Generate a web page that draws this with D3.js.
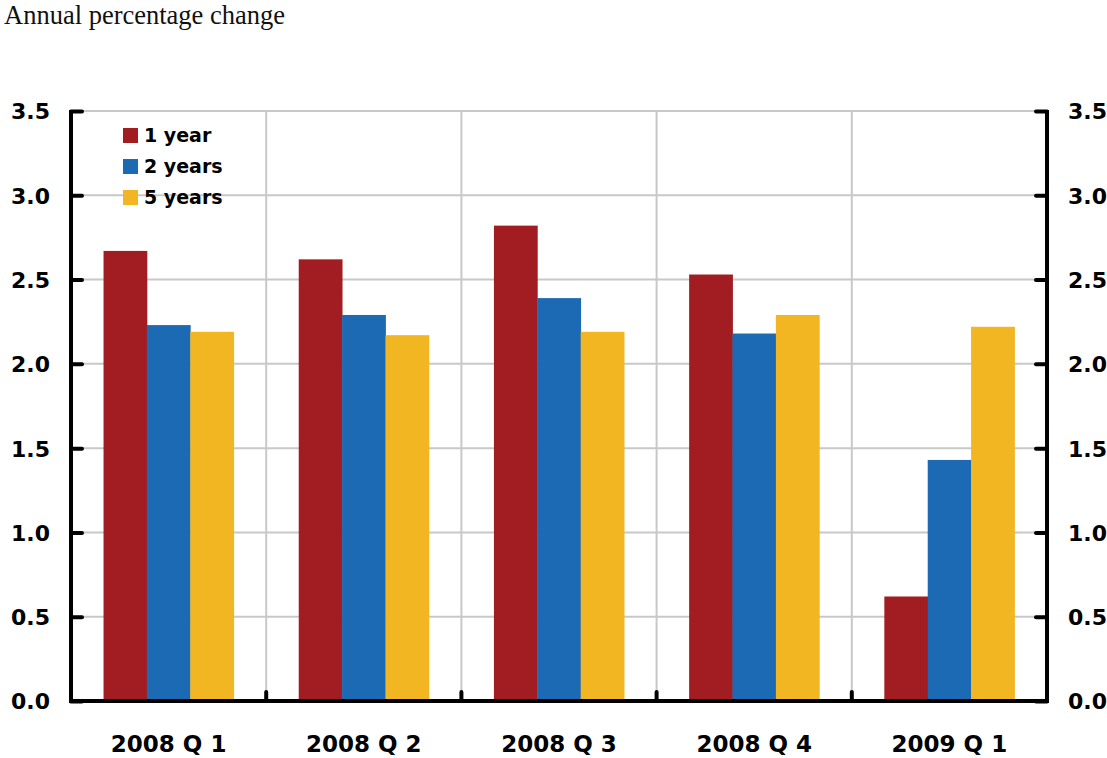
<!DOCTYPE html>
<html>
<head>
<meta charset="utf-8">
<script src="https://cdn.jsdelivr.net/npm/d3@7"></script>
<style>
  html, body { margin: 0; padding: 0; background: #fff; }
  svg { display: block; }
</style>
</head>
<body>
<svg id="chart" width="1107" height="758"></svg>
<script>
// Inflation expectations by horizon, quarterly
const categories = ["2008 Q 1", "2008 Q 2", "2008 Q 3", "2008 Q 4", "2009 Q 1"];
const seriesNames = ["1 year", "2 years", "5 years"];
const oneYear   = [2.67, 2.62, 2.82, 2.53, 0.62];
const twoYears  = [2.23, 2.29, 2.39, 2.18, 1.43];
const fiveYears = [2.19, 2.17, 2.19, 2.29, 2.22];
const yTicks = [0, 0.5, 1.0, 1.5, 2.0, 2.5, 3.0, 3.5];
const colors = ["#A11D22", "#1C69B4", "#F1B621"];

const series = [oneYear, twoYears, fiveYears];

const svg = d3.select("#chart");
const plotL = 71, plotR = 1047, plotT = 111, plotB = 701;

const x = d3.scaleBand().domain(categories).range([plotL, plotR]);
// Each quarter's group of three bars sits in the middle two thirds of its band
const xInner = d3.scaleBand().domain(seriesNames).range([0, x.bandwidth()]).paddingOuter(0.75);
const y = d3.scaleLinear().domain([0, 3.5]).range([plotB, plotT]);

const labelFont = "'DejaVu Sans', sans-serif";

// Title
svg.append("text")
  .attr("x", 4).attr("y", 24)
  .attr("font-family", "'Liberation Serif', 'Times New Roman', serif")
  .attr("font-size", 26.5)
  .attr("fill", "#111")
  .text("Annual percentage change");

// Horizontal gridlines
svg.append("g").selectAll("line")
  .data(yTicks.filter(d => d > 0))
  .join("line")
  .attr("x1", plotL).attr("x2", plotR)
  .attr("y1", d => y(d)).attr("y2", d => y(d))
  .attr("stroke", "#c8c8c8").attr("stroke-width", 2);

// Vertical separators between quarters
const bounds = categories.slice(1).map(c => x(c));
svg.append("g").selectAll("line")
  .data(bounds)
  .join("line")
  .attr("x1", d => d).attr("x2", d => d)
  .attr("y1", plotT).attr("y2", plotB)
  .attr("stroke", "#c8c8c8").attr("stroke-width", 2);

// Bars
const groups = svg.append("g").selectAll("g")
  .data(categories)
  .join("g")
  .attr("transform", d => `translate(${x(d)},0)`);

groups.selectAll("rect")
  .data((c, i) => series.map((s, k) => ({ name: seriesNames[k], k, v: s[i] })))
  .join("rect")
  .attr("x", d => xInner(d.name))
  .attr("width", xInner.bandwidth() + 0.4)
  .attr("y", d => y(d.v))
  .attr("height", d => y(0) - y(d.v))
  .attr("fill", d => colors[d.k]);

// Left and right value axes, ticks pointing inward
const leftAxis = d3.axisLeft(y).tickValues(yTicks).tickFormat(d3.format(".1f")).tickSize(-11);
const gl = svg.append("g").attr("transform", `translate(${plotL},0)`).call(leftAxis);
const rightAxis = d3.axisRight(y).tickValues(yTicks).tickFormat(d3.format(".1f")).tickSize(-11);
const gr = svg.append("g").attr("transform", `translate(${plotR},0)`).call(rightAxis);

[gl, gr].forEach(g => {
  g.select(".domain").remove();
  g.selectAll(".tick line").attr("stroke", "#000").attr("stroke-width", 4).attr("stroke-linecap", "round");
  g.selectAll(".tick text")
    .attr("font-family", labelFont).attr("font-weight", 700)
    .attr("font-size", 22).attr("fill", "#000").attr("dy", "0.36em");
});
gl.selectAll(".tick text").attr("x", -21);
gr.selectAll(".tick text").attr("x", 21);

// Axis spines
svg.append("line").attr("x1", plotL).attr("x2", plotL).attr("y1", plotT - 1).attr("y2", plotB)
  .attr("stroke", "#000").attr("stroke-width", 4);
svg.append("line").attr("x1", plotR).attr("x2", plotR).attr("y1", plotT - 1).attr("y2", plotB)
  .attr("stroke", "#000").attr("stroke-width", 4);

// Category axis
const bottomAxis = d3.axisBottom(x).tickSize(0);
const gb = svg.append("g").attr("transform", `translate(0,${plotB})`).call(bottomAxis);
gb.select(".domain").remove();
gb.selectAll(".tick text")
  .attr("y", 51).attr("dy", 0)
  .attr("font-family", labelFont).attr("font-weight", 700)
  .attr("font-size", 23).attr("fill", "#000");

// Small upward ticks at the quarter boundaries
svg.append("g").selectAll("line")
  .data(bounds)
  .join("line")
  .attr("x1", d => d).attr("x2", d => d)
  .attr("y1", plotB - 9).attr("y2", plotB)
  .attr("stroke", "#000").attr("stroke-width", 4).attr("stroke-linecap", "round");

svg.append("line").attr("x1", plotL - 2).attr("x2", plotR + 2).attr("y1", plotB).attr("y2", plotB)
  .attr("stroke", "#000").attr("stroke-width", 4);

// Legend
const legend = svg.append("g").attr("transform", "translate(123,128)");
const rows = legend.selectAll("g").data(seriesNames).join("g")
  .attr("transform", (d, i) => `translate(0,${i * 31})`);
rows.append("rect").attr("width", 15).attr("height", 15).attr("fill", (d, i) => colors[i]);
rows.append("text").attr("x", 21).attr("y", 7.5).attr("dy", "0.36em")
  .attr("font-family", labelFont).attr("font-weight", 700).attr("font-size", 19)
  .attr("fill", "#000").text(d => d);
</script>
</body>
</html>
